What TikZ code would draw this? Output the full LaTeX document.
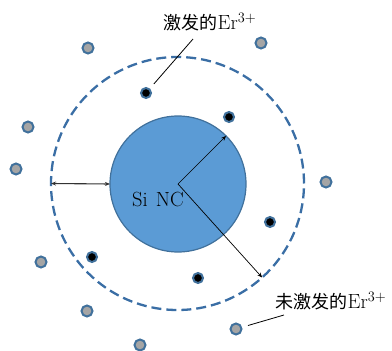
\documentclass[tikz,border=0pt]{standalone}
\usepackage{fontspec}
\newfontfamily\cjk{Noto Sans CJK SC}
\usetikzlibrary{arrows.meta}
\definecolor{ncfill}{HTML}{5B9BD5}
\definecolor{ncdraw}{HTML}{41719C}
\definecolor{dashc}{HTML}{3A6EA5}
\definecolor{grayf}{HTML}{A5A5A5}
\tikzset{
  ncball/.style={circle,fill=ncfill,draw=ncdraw,line width=1.2pt,minimum size=136pt,inner sep=0pt,outer sep=0pt},
  shell/.style={circle,draw=dashc,line width=2.3pt,dash pattern=on 10pt off 5pt,minimum size=253pt,inner sep=0pt,outer sep=0pt},
  exc/.style={circle,fill=black,draw=ncdraw,line width=2pt,minimum size=10pt,inner sep=0pt},
  unexc/.style={circle,fill=grayf,draw=ncdraw,line width=2pt,minimum size=11pt,inner sep=0pt},
  lab/.style={font=\fontsize{20.5}{23}\selectfont,inner sep=0pt},
  rarrow/.style={-{Stealth[length=5pt,width=4pt]},line width=0.7pt,black},
  lead/.style={line width=0.8pt,black}
}
\begin{document}
\begin{tikzpicture}[x=1pt,y=-1pt]
\useasboundingbox (0,0) rectangle (392,351);
\node[shell] (dc) at (177.5,183.5) {};
\node[ncball] (nc) at (178,184) {};
\coordinate (c) at (178,184);
\node[lab] (si) at (158,199) {Si\hspace{8pt}NC};
% excited
\node[exc] (e1) at (146,93) {};
\node[exc] (e2) at (229,117) {};
\node[exc] (e3) at (270,222) {};
\node[exc] (e4) at (92,257) {};
\node[exc] (e5) at (198,278) {};
% unexcited
\node[unexc] (u1) at (88,48) {};
\node[unexc] (u2) at (261,43) {};
\node[unexc] (u3) at (28,127) {};
\node[unexc] (u4) at (16,169) {};
\node[unexc] (u5) at (326,182) {};
\node[unexc] (u6) at (41,262) {};
\node[unexc] (u7) at (87,311) {};
\node[unexc] (u8) at (140,345) {};
\node[unexc] (u9) at (236,329) {};
% arrows
\draw[rarrow] (c) -- (nc.45);
\draw[rarrow] (c) -- (dc.-48);
\draw[{Stealth[length=5pt,width=4pt]}-{Stealth[length=5pt,width=4pt]},line width=1.1pt,black!80] (dc.180) -- (nc.180);
% labels
\node[lab] (l1) at (210,22) {{\cjk\fontsize{18}{22}\selectfont 激发的}Er$^{3+}$};
\node[lab] (l2) at (331,301) {{\cjk\fontsize{18}{22}\selectfont 未激发的}Er$^{3+}$};
\coordinate (l1s) at (193,39);
\coordinate (l2s) at (284,315);
\draw[lead,shorten >=6pt] (l1s) -- (e1);
\draw[lead,shorten <=6pt] (u9) -- (l2s);
\end{tikzpicture}
\end{document}
